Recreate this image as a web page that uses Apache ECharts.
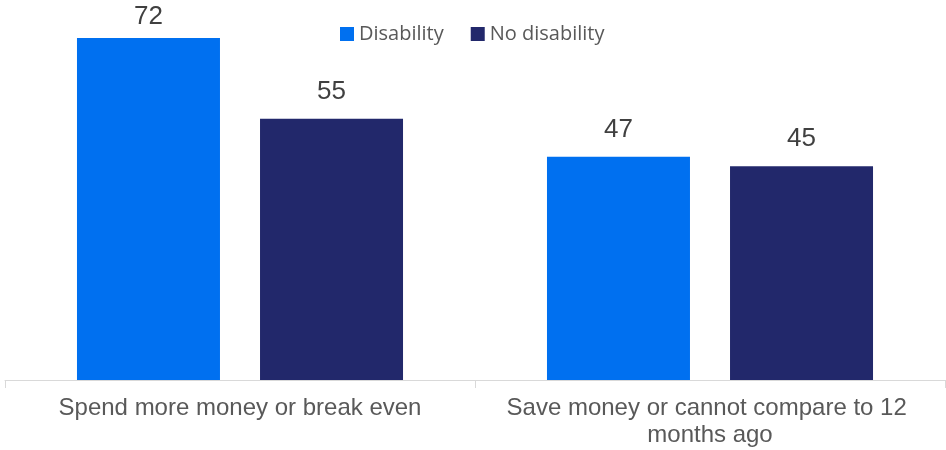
<!DOCTYPE html>
<html>
<head>
<meta charset="utf-8">
<script src="https://cdn.jsdelivr.net/npm/echarts@6/dist/echarts.min.js"></script>
<style>
  html, body { margin: 0; padding: 0; background: #fff; }
  #chart { width: 946px; height: 450px; }
</style>
</head>
<body>
<div id="chart"></div>
<script>
const categories = ["Spend more money or break even", "Save money or cannot compare to 12 months ago"];
const disability = [72, 47];
const noDisability = [55, 45];

// the tallest label sits a little lower so it stays inside the picture
const disabilityData = disability.map(function (v, i) {
  return i === 0 ? { value: v, label: { distance: 8 } } : v;
});

const chart = echarts.init(document.getElementById("chart"));
chart.setOption({
  backgroundColor: "#fff",
  animation: false,
  grid: {
    left: 5,
    right: 1,
    top: 0,
    bottom: 70,
    outerBoundsMode: "none"
  },
  legend: {
    top: 19,
    left: 335,
    itemWidth: 14,
    itemHeight: 14,
    itemGap: 27,
    icon: "rect",
    textStyle: {
      fontFamily: "Open Sans",
      fontSize: 20,
      color: "#595959"
    },
    data: ["Disability", "No disability"]
  },
  xAxis: {
    type: "category",
    data: categories,
    axisLine: {
      lineStyle: { color: "#d9d9d9" }
    },
    axisTick: {
      show: true,
      length: 8,
      lineStyle: { color: "#d9d9d9" }
    },
    axisLabel: {
      fontFamily: "Liberation Sans",
      fontSize: 24,
      color: "#595959",
      margin: 15,
      lineHeight: 27,
      width: 430,
      overflow: "break",
      interval: 0
    }
  },
  yAxis: {
    type: "value",
    min: 0,
    max: 80,
    show: false,
    splitLine: { show: false }
  },
  series: [
    {
      name: "Disability",
      type: "bar",
      data: disabilityData,
      barWidth: 143,
      barGap: "28%",
      itemStyle: { color: "#0070f0" },
      label: {
        show: true,
        position: "top",
        distance: 14,
        fontFamily: "Liberation Sans",
        fontSize: 26,
        color: "#404040"
      }
    },
    {
      name: "No disability",
      type: "bar",
      data: noDisability,
      barWidth: 143,
      itemStyle: { color: "#22286b" },
      label: {
        show: true,
        position: "top",
        distance: 14,
        fontFamily: "Liberation Sans",
        fontSize: 26,
        color: "#404040"
      }
    }
  ]
});
</script>
</body>
</html>
